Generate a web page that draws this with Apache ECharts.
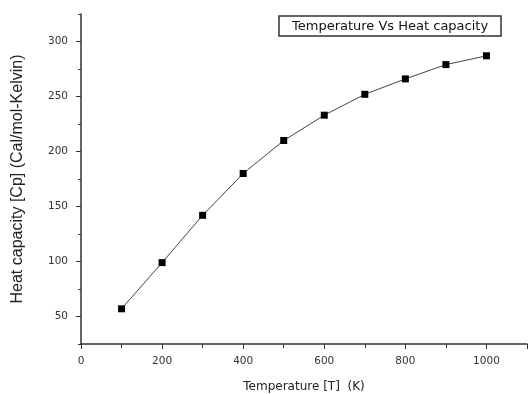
<!DOCTYPE html>
<html>
<head>
<meta charset="utf-8">
<script src="https://cdn.jsdelivr.net/npm/echarts@6/dist/echarts.min.js"></script>
<style>
  html, body { margin: 0; padding: 0; background: #fff; }
  #chart { width: 529px; height: 394px; }
</style>
</head>
<body>
<div id="chart"></div>
<script>
// temperature (K) and heat capacity Cp values
const temps = [100, 200, 300, 400, 500, 600, 700, 800, 900, 1000];
const cp = [57, 99, 142, 180, 210, 233, 252, 266, 279, 287];
const yMajor = [50, 100, 150, 200, 250, 300];
const yMinor = [25, 75, 125, 175, 225, 275, 325];

const chart = echarts.init(document.getElementById("chart"));
const axisColor = "#333";
const font = "DejaVu Sans, sans-serif";

const option = {
  animation: false,
  title: {
    text: "Temperature Vs Heat capacity",
    left: 279,
    top: 16,
    padding: [4, 13, 3, 13],
    borderColor: "#333",
    borderWidth: 1.5,
    textStyle: {
      fontFamily: font,
      fontSize: 13,
      fontWeight: "normal",
      color: "#111"
    }
  },
  grid: { left: 81, right: 2, top: 14, bottom: 50, outerBoundsMode: "none" },
  xAxis: {
    type: "value",
    min: 0,
    max: 1100,
    interval: 200,
    name: "Temperature [T]  (K)",
    nameLocation: "middle",
    nameGap: 37,
    nameTextStyle: { fontFamily: font, fontSize: 12, color: "#222" },
    axisLine: { lineStyle: { color: axisColor, width: 1.5 } },
    axisTick: { length: 5, lineStyle: { color: axisColor } },
    minorTick: { show: true, splitNumber: 2, length: 4, lineStyle: { color: axisColor } },
    axisLabel: {
      margin: 12,
      fontFamily: font,
      fontSize: 10.5,
      color: "#333",
      showMaxLabel: false,
      formatter: (v) => (v <= 1000 ? String(v) : "")
    },
    splitLine: { show: false }
  },
  yAxis: [
    {
      type: "value",
      min: 25,
      max: 325,
      name: "Heat capacity [Cp] (Cal/mol-Kelvin)",
      nameLocation: "middle",
      nameGap: 55,
      nameTextStyle: { fontFamily: "Liberation Sans, Arial, sans-serif", fontSize: 16, color: "#222" },
      axisLine: { lineStyle: { color: axisColor, width: 1.5 } },
      axisTick: { length: 5, customValues: yMajor, lineStyle: { color: axisColor } },
      axisLabel: {
        margin: 13,
        fontFamily: font,
        fontSize: 10.5,
        color: "#333",
        customValues: yMajor
      },
      splitLine: { show: false }
    },
    {
      // second axis only for the short minor ticks
      type: "value",
      position: "left",
      min: 25,
      max: 325,
      axisLine: { show: false },
      axisTick: { show: true, length: 3, customValues: yMinor, lineStyle: { color: axisColor } },
      axisLabel: { show: false },
      splitLine: { show: false }
    }
  ],
  series: [
    {
      type: "line",
      data: temps.map((t, i) => [t, cp[i]]),
      symbol: "rect",
      symbolSize: 7,
      itemStyle: { color: "#000" },
      lineStyle: { color: "#444", width: 1 }
    }
  ]
};
chart.setOption(option);
</script>
</body>
</html>
